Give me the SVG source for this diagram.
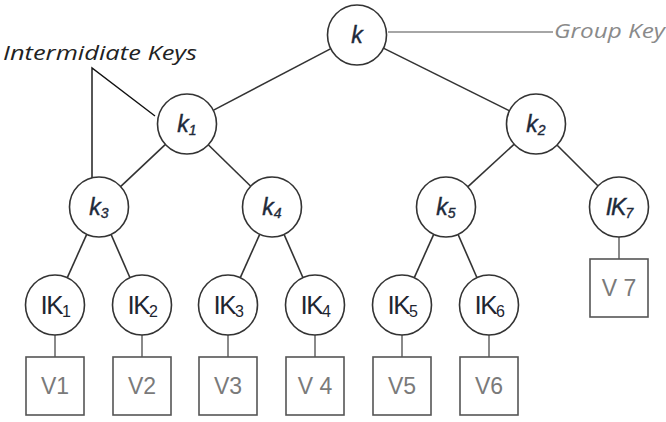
<svg xmlns="http://www.w3.org/2000/svg" width="666" height="422" viewBox="0 0 666 422">
<style>
.node ellipse{fill:#fff;stroke:#333;stroke-width:1.6}
.node rect{fill:#fff;stroke:#555;stroke-width:1.6}
.kt{font-family:"Liberation Sans",Arial,sans-serif;font-style:italic;font-size:23px;fill:#1e2a3a;stroke:#1e2a3a;stroke-width:0.4;text-anchor:middle}
.ik7{letter-spacing:-1px}
.ik{font-family:"Liberation Sans",Arial,sans-serif;font-size:26px;fill:#1e2530;text-anchor:middle;letter-spacing:-1.5px}
.vt{font-family:"Liberation Sans",Arial,sans-serif;font-size:23px;fill:#7a7a7a;text-anchor:middle}
.sub{font-size:14px}
.ik .sub{font-size:16px}
#edges line{stroke:#333;stroke-width:1.6}
#edges .leaf{stroke:#8a8a8a;stroke-width:2}
.ann{font-family:"Open Sans","Liberation Sans",sans-serif;font-style:italic;font-size:20px}
</style>
<g id="edges">
<line x1="330.4" y1="48.9" x2="213.6" y2="110.1"/>
<line x1="383.9" y1="48.4" x2="509.1" y2="110.6"/>
<line x1="165.2" y1="144.6" x2="120.8" y2="186.4"/>
<line x1="208.5" y1="145" x2="250.5" y2="186"/>
<line x1="514" y1="144.3" x2="468" y2="186.7"/>
<line x1="557.2" y1="145.2" x2="597.8" y2="185.8"/>
<line x1="86.7" y1="234.4" x2="67.3" y2="277.6"/>
<line x1="111.1" y1="234.5" x2="129.9" y2="277.5"/>
<line x1="259.7" y1="234.4" x2="240.3" y2="277.6"/>
<line x1="284.1" y1="234.5" x2="302.9" y2="277.5"/>
<line x1="433.7" y1="234.4" x2="414.3" y2="277.6"/>
<line x1="458.1" y1="234.5" x2="476.9" y2="277.5"/>
<line class="leaf" x1="55" y1="335" x2="55" y2="357"/>
<line class="leaf" x1="142" y1="335" x2="142" y2="357"/>
<line class="leaf" x1="228" y1="335" x2="228" y2="357"/>
<line class="leaf" x1="315" y1="335" x2="315" y2="357"/>
<line class="leaf" x1="402" y1="335" x2="402" y2="357"/>
<line class="leaf" x1="489" y1="335" x2="489" y2="357"/>
<line class="leaf" x1="619" y1="237" x2="619" y2="259"/>
</g>
<g id="group-key-label">
<line x1="388" y1="32" x2="553" y2="32" stroke="#888" stroke-width="1.5"/>
<text class="ann" x="554" y="38" fill="#8a8a8a" textLength="111" lengthAdjust="spacingAndGlyphs">Group Key</text>
</g>
<g id="intermediate-keys-label">
<text class="ann" x="3" y="60" fill="#222" textLength="194" lengthAdjust="spacingAndGlyphs">Intermidiate Keys</text>
<polyline points="92,179 92,68 155,116" fill="none" stroke="#111" stroke-width="1.4"/>
</g>
<g id="k" class="node"><ellipse cx="357" cy="35" rx="29.5" ry="30"/><text class="kt" x="357" y="43">k</text></g>
<g id="k1" class="node"><ellipse cx="187" cy="124" rx="29.5" ry="30"/><text class="kt" x="187" y="132">k<tspan class="sub" dy="3">1</tspan></text></g>
<g id="k2" class="node"><ellipse cx="536" cy="124" rx="29.5" ry="30"/><text class="kt" x="536" y="132">k<tspan class="sub" dy="3">2</tspan></text></g>
<g id="k3" class="node"><ellipse cx="99" cy="207" rx="29.5" ry="30"/><text class="kt" x="99" y="215">k<tspan class="sub" dy="3">3</tspan></text></g>
<g id="k4" class="node"><ellipse cx="272" cy="207" rx="29.5" ry="30"/><text class="kt" x="272" y="215">k<tspan class="sub" dy="3">4</tspan></text></g>
<g id="k5" class="node"><ellipse cx="446" cy="207" rx="29.5" ry="30"/><text class="kt" x="446" y="215">k<tspan class="sub" dy="3">5</tspan></text></g>
<g id="IK7" class="node"><ellipse cx="619" cy="207" rx="29.5" ry="30"/><text class="kt ik7" x="619" y="215">IK<tspan class="sub" dy="3">7</tspan></text></g>
<g id="IK1" class="node"><ellipse cx="55" cy="305" rx="29.5" ry="30"/><text class="ik" x="55" y="314">IK<tspan class="sub" dy="3">1</tspan></text></g>
<g id="IK2" class="node"><ellipse cx="142" cy="305" rx="29.5" ry="30"/><text class="ik" x="142" y="314">IK<tspan class="sub" dy="3">2</tspan></text></g>
<g id="IK3" class="node"><ellipse cx="228" cy="305" rx="29.5" ry="30"/><text class="ik" x="228" y="314">IK<tspan class="sub" dy="3">3</tspan></text></g>
<g id="IK4" class="node"><ellipse cx="315" cy="305" rx="29.5" ry="30"/><text class="ik" x="315" y="314">IK<tspan class="sub" dy="3">4</tspan></text></g>
<g id="IK5" class="node"><ellipse cx="402" cy="305" rx="29.5" ry="30"/><text class="ik" x="402" y="314">IK<tspan class="sub" dy="3">5</tspan></text></g>
<g id="IK6" class="node"><ellipse cx="489" cy="305" rx="29.5" ry="30"/><text class="ik" x="489" y="314">IK<tspan class="sub" dy="3">6</tspan></text></g>
<g id="V1" class="node"><rect x="26" y="357" width="58" height="58"/><text class="vt" x="55" y="394">V1</text></g>
<g id="V2" class="node"><rect x="113" y="357" width="58" height="58"/><text class="vt" x="142" y="394">V2</text></g>
<g id="V3" class="node"><rect x="199" y="357" width="58" height="58"/><text class="vt" x="228" y="394">V3</text></g>
<g id="V4" class="node"><rect x="286" y="357" width="58" height="58"/><text class="vt" x="315" y="394">V 4</text></g>
<g id="V5" class="node"><rect x="373" y="357" width="58" height="58"/><text class="vt" x="402" y="394">V5</text></g>
<g id="V6" class="node"><rect x="460" y="357" width="58" height="58"/><text class="vt" x="489" y="394">V6</text></g>
<g id="V7" class="node"><rect x="590" y="259" width="58" height="58"/><text class="vt" x="619" y="296">V 7</text></g>
</svg>
